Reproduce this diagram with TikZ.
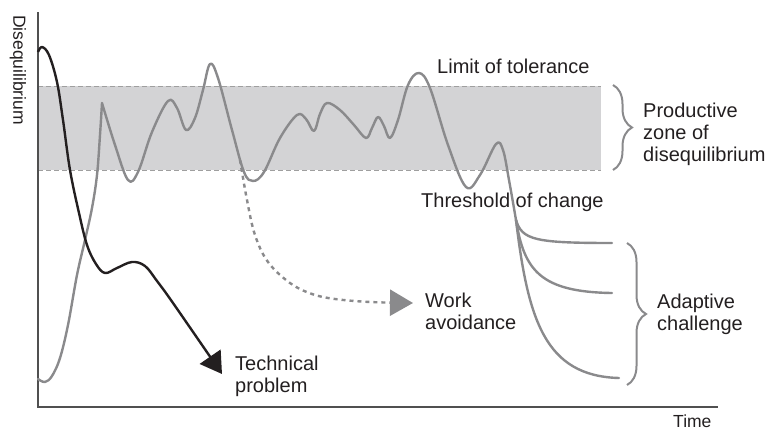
\documentclass[tikz,border=0pt]{standalone}
\usepackage{fontspec}
\setmainfont{Liberation Sans}
\usetikzlibrary{arrows.meta,decorations.pathreplacing}
\definecolor{curvegray}{RGB}{138,138,140}
\definecolor{bandgray}{RGB}{211,211,213}
\definecolor{inkblack}{RGB}{35,31,32}
\definecolor{axisgray}{RGB}{80,80,80}

\begin{document}
\begin{tikzpicture}[
    x=1pt,y=-1pt,
    curve/.style={line width=2.4pt,curvegray,line join=round,line cap=round},
    tech/.style={line width=2.4pt,inkblack,line join=round},
    avoid/.style={line width=2.4pt,curvegray,dash pattern=on 4pt off 4pt},
    bandline/.style={line width=0.9pt,gray!75,dash pattern=on 5pt off 3pt},
    axis/.style={line width=1.2pt,axisgray},
    note/.style={font=\fontsize{20}{22}\selectfont,text=inkblack,align=left,inner sep=0pt,anchor=base west},
    axisnote/.style={font=\fontsize{17.5}{20}\selectfont,text=inkblack,inner sep=0pt},
    bracket/.style={decorate,decoration={brace,amplitude=19pt},line width=2pt,curvegray}
]
\useasboundingbox (0,0) rectangle (769,431);

% Productive zone
\fill[bandgray] (38,86) rectangle (601,170);
\draw[bandline] (38,86) -- (601,86);
\draw[bandline] (38,170) -- (601,170);

% Axes
\coordinate (ytop) at (38,12);
\coordinate (origin) at (38,407);
\coordinate (xend) at (718,407);
\draw[axis] (ytop) -- (origin) -- (xend);
\node[axisnote,rotate=-90] (ylab) at (18,70) {Disequilibrium};
\node[axisnote,anchor=base west] (xlab) at (673,427) {Time};

% Adaptive curve
\coordinate (split) at (516,220);
\draw[curve] plot[smooth,tension=0.6] coordinates {(38,379) (45,382) (52,376) (60,358) (68,325) (77,275) (85,240) (92,208) (97,175) (100,135) (102,103)}
  -- plot[smooth,tension=0.6] coordinates {(102,103) (115,145) (128,180) (138,172) (152,132) (168,101) (177,108) (186,130) (195,118) (203,90) (210,64) (218,78) (232,130) (244,172) (253,181) (264,172) (280,138) (297,115) (306,119) (314,131) (320,114) (327,103) (340,110) (354,125) (366,138) (372,128) (378,117) (384,126) (390,138) (398,120) (408,85) (419,73) (430,88) (448,145) (466,187) (480,175) (496,144) (503,150) (509,180) (split)};
\coordinate (end1) at (612,243);
\coordinate (end2) at (612,293);
\coordinate (end3) at (619,378);
\draw[curve] (split) .. controls (522,240) and (535,243) .. (end1);
\draw[curve] (split) .. controls (524,270) and (540,292) .. (end2);
\draw[curve] (split) .. controls (528,320) and (545,376) .. (end3);

% Work avoidance
\draw[avoid,-{Triangle[length=23pt,width=26pt]}] plot[smooth,tension=0.6] coordinates {(240,160) (247,200) (255,235) (268,262) (290,283) (312,294) (335,299) (370,302) (413,303)};

% Technical problem
\draw[tech,-{Triangle[length=21pt,width=25pt]}] plot[smooth,tension=0.6] coordinates {(38,52) (42,47) (49,55) (57,82) (63,120) (70,170) (79,213) (87,245) (96,264) (105,273) (117,268) (132,262) (145,266) (157,281) (173,303) (222,374)};

% Braces
\draw[bracket] (613,85) -- (613,170);
\draw[bracket] (627,243) -- (627,385);

% Labels
\node[note] (limit) at (437,73) {Limit of tolerance};
\node[note] (threshold) at (421,207) {Threshold of change};
\node[note] (productive) at (643,161) {Productive\\zone of\\disequilibrium};
\node[note] (adaptive) at (657,330) {Adaptive\\challenge};
\node[note] (workav) at (425,329) {Work\\avoidance};
\node[note] (technical) at (235,392) {Technical\\problem};

\end{tikzpicture}
\end{document}
